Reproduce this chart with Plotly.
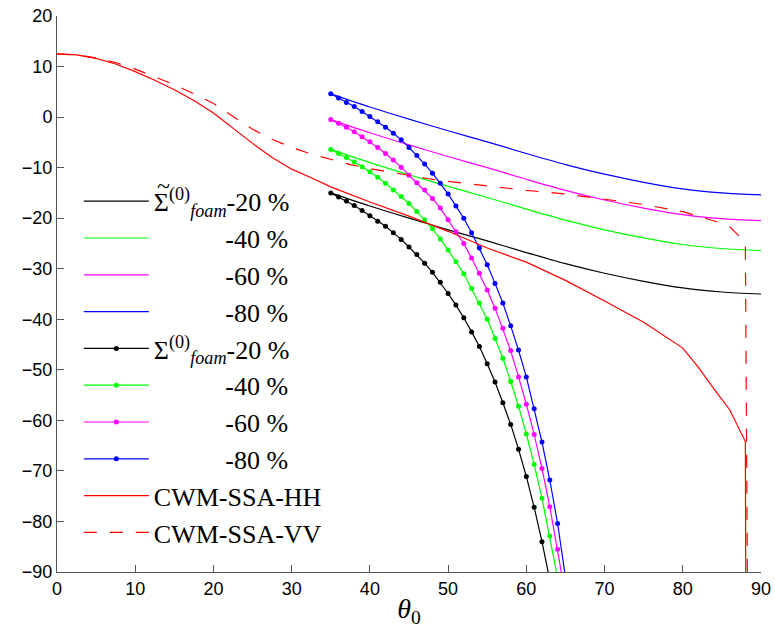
import plotly.graph_objects as go

# ---------------- data ----------------
theta_cwm = [0, 2.5, 5, 7.5, 10, 12.5, 15, 17.5, 20, 22.5, 25, 27.5, 30, 32.5, 35,
             40, 45, 50, 55, 60, 65, 70, 75, 80, 82, 84, 86, 88, 89]
cwm_hh = [12.5, 12.3, 11.6, 10.5, 9.0, 7.3, 5.4, 3.3, 0.8, -2.2, -5.2, -8.0, -10.3, -12.0, -13.8,
          -16.8, -19.6, -22.6, -25.9, -28.7, -32.3, -36.4, -40.6, -45.7, -49.5, -53.8, -57.9, -64.2, -600]

theta_vv = [0, 2.5, 5, 7.5, 10, 12.5, 15, 17.5, 20, 22.5, 25, 27.5, 30, 32.5, 35, 37.5,
            40, 42.5, 45, 47.5, 50, 55, 60, 65, 70, 75, 80, 83, 85, 86, 87, 88, 89]
cwm_vv = [12.5, 12.3, 11.7, 10.8, 9.5, 8.0, 6.4, 4.6, 2.7, 0.1, -2.4, -4.4, -6.0, -7.3, -8.4, -9.4,
          -10.2, -10.9, -11.5, -12.2, -12.7, -13.6, -14.5, -15.2, -16.2, -17.3, -18.7, -20.0, -21.0,
          -21.7, -23.2, -25.3, -278]

theta_tilde = [35, 40, 45, 50, 55, 60, 65, 70, 75, 80, 85, 90]
tilde_20 = [-15.0, -17.6, -20.0, -22.3, -24.5, -26.8, -29.0, -30.9, -32.5, -33.8, -34.6, -35.0]
tilde_40 = [-6.4, -9.0, -11.4, -13.7, -15.9, -18.2, -20.4, -22.3, -23.9, -25.2, -26.0, -26.4]
tilde_60 = [-0.5, -3.1, -5.5, -7.8, -10.0, -12.3, -14.5, -16.4, -18.0, -19.3, -20.1, -20.5]
tilde_80 = [4.6, 2.0, -0.4, -2.7, -4.9, -7.2, -9.4, -11.3, -12.9, -14.2, -15.0, -15.4]

theta_f20 = list(range(35, 64))
foam_20 = [-15.0, -15.8, -16.6, -17.5, -18.5, -19.5, -20.6, -21.6, -22.9, -24.2, -25.7, -27.2,
           -28.9, -30.7, -32.7, -34.9, -37.2, -39.7, -42.5, -45.4, -48.8, -52.4, -56.5, -60.8,
           -65.7, -71.1, -77.2, -84.0, -91.6]
theta_f40 = list(range(35, 65))
foam_40 = [-6.4, -7.2, -8.0, -8.9, -9.8, -10.8, -11.9, -13.1, -14.4, -15.7, -17.1, -18.7,
           -20.3, -22.1, -24.1, -26.3, -28.6, -31.0, -33.9, -36.8, -40.0, -43.8, -47.7, -52.3,
           -57.2, -62.7, -68.7, -75.4, -82.9, -91.2]
theta_f60 = list(range(35, 66))
foam_60 = [-0.5, -1.2, -2.0, -2.9, -3.9, -4.9, -6.0, -7.2, -8.5, -9.9, -11.5, -13.0,
           -14.4, -16.1, -18.0, -20.3, -22.7, -25.0, -27.9, -30.9, -34.2, -37.8, -41.8, -46.2,
           -51.4, -56.8, -62.8, -69.5, -77.1, -85.5, -94.7]
theta_f80 = list(range(35, 66))
foam_80 = [4.6, 3.8, 2.9, 2.1, 1.1, 0.1, -0.9, -2.0, -3.2, -4.5, -6.0, -7.6,
           -9.3, -11.1, -13.1, -15.2, -17.6, -20.0, -22.9, -25.9, -29.2, -32.9, -36.8, -41.3,
           -46.1, -51.4, -57.7, -64.3, -71.8, -80.4, -91.0]

x_ticks = list(range(0, 91, 10))
y_ticks = list(range(-90, 21, 10))

PAD = "\u00a0" * 11
names_tilde = ["Σ<sup>(0)</sup><sub><i>foam</i></sub>-20 %",
               PAD + "-40 %", PAD + "-60 %", PAD + "-80 %"]
names_foam = ["Σ<sup>(0)</sup><sub><i>foam</i></sub>-20 %",
              PAD + "-40 %", PAD + "-60 %", PAD + "-80 %"]
colors = ["#000000", "#00ff00", "#ff00ff", "#0000ff"]

fig = go.Figure()

for th, ys, nm, c in zip([theta_tilde] * 4, [tilde_20, tilde_40, tilde_60, tilde_80], names_tilde, colors):
    fig.add_trace(go.Scatter(x=th, y=ys, name=nm, mode="lines",
                             line=dict(color=c, width=1.2, shape="spline", smoothing=0.8)))

for th, ys, nm, c in zip([theta_f20, theta_f40, theta_f60, theta_f80],
                         [foam_20, foam_40, foam_60, foam_80], names_foam, colors):
    fig.add_trace(go.Scatter(x=th, y=ys, name=nm, mode="lines+markers",
                             line=dict(color=c, width=1.2),
                             marker=dict(color=c, size=5)))

fig.add_trace(go.Scatter(x=theta_cwm, y=cwm_hh, name="CWM-SSA-HH", mode="lines",
                         line=dict(color="#ff0000", width=1.2)))
fig.add_trace(go.Scatter(x=theta_vv, y=cwm_vv, name="CWM-SSA-VV", mode="lines",
                         line=dict(color="#ff0000", width=1.2, dash="13px,13px")))

axis_common = dict(showgrid=False, zeroline=False, showline=True, linecolor="#555555",
                   linewidth=1, ticks="inside", ticklen=7, tickcolor="#555555",
                   mirror=False, automargin=False,
                   tickfont=dict(family="Liberation Sans, Arial, sans-serif", size=18, color="#000"))

fig.update_layout(
    width=775, height=629,
    margin=dict(l=57, r=14, t=16, b=57),
    paper_bgcolor="white", plot_bgcolor="white",
    showlegend=True,
    xaxis=dict(range=[0, 90], tickvals=x_ticks, **axis_common,
               title=dict(text="<i>θ</i><sub>0</sub>", standoff=0,
                          font=dict(family="Liberation Serif, serif", size=28, color="#000"))),
    yaxis=dict(range=[-90, 20], tickvals=y_ticks, **axis_common),
    legend=dict(x=0.031, y=0.709, xanchor="left", yanchor="top",
                bgcolor="rgba(0,0,0,0)", borderwidth=0,
                itemwidth=65, tracegroupgap=0,
                font=dict(family="Liberation Serif, serif", size=26, color="#000")),
    annotations=[dict(text="~", xref="paper", yref="paper", x=0.151, y=0.694,
                      xanchor="center", yanchor="middle", showarrow=False,
                      font=dict(family="Liberation Serif, serif", size=24, color="#000"))],
)

fig.write_html("out.html", config={"displayModeBar": False},
               post_script="document.body.style.margin='0px';")
